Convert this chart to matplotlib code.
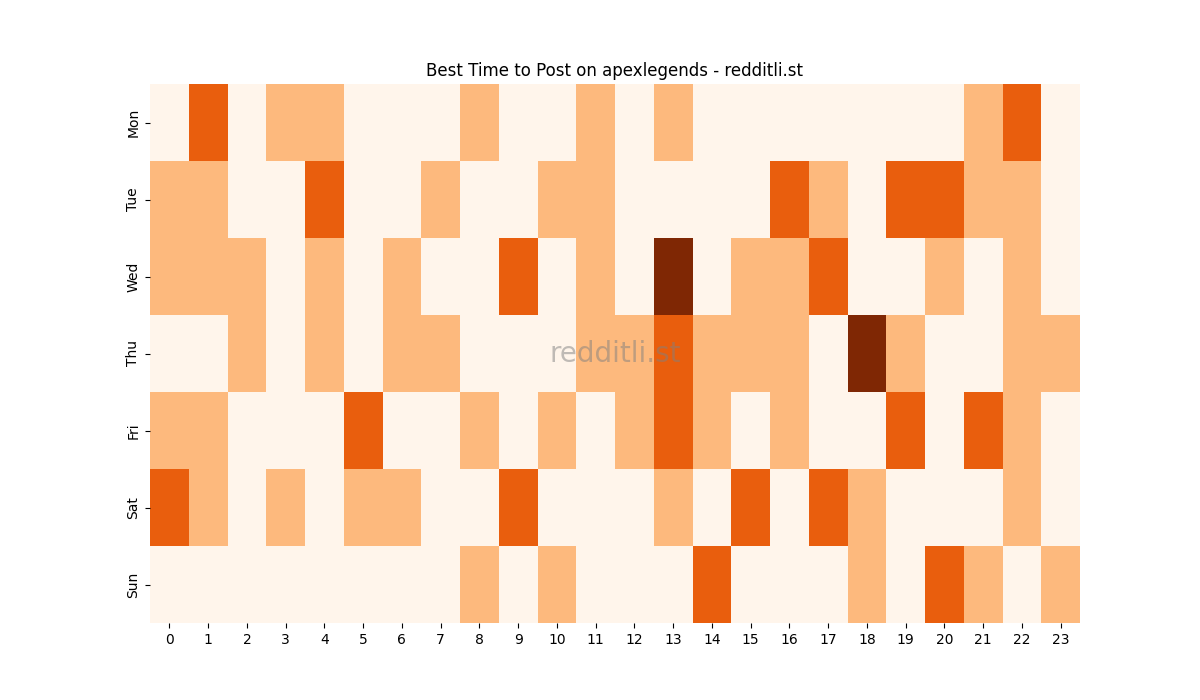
import matplotlib
matplotlib.use("Agg")
import matplotlib.pyplot as plt
import seaborn as sns
import pandas as pd

days = ["Mon", "Tue", "Wed", "Thu", "Fri", "Sat", "Sun"]
hours = list(range(24))

# activity level per hour (0-3)
mon = [0, 2, 0, 1, 1, 0, 0, 0, 1, 0, 0, 1, 0, 1, 0, 0, 0, 0, 0, 0, 0, 1, 2, 0]
tue = [1, 1, 0, 0, 2, 0, 0, 1, 0, 0, 1, 1, 0, 0, 0, 0, 2, 1, 0, 2, 2, 1, 1, 0]
wed = [1, 1, 1, 0, 1, 0, 1, 0, 0, 2, 0, 1, 0, 3, 0, 1, 1, 2, 0, 0, 1, 0, 1, 0]
thu = [0, 0, 1, 0, 1, 0, 1, 1, 0, 0, 0, 1, 1, 2, 1, 1, 1, 0, 3, 1, 0, 0, 1, 1]
fri = [1, 1, 0, 0, 0, 2, 0, 0, 1, 0, 1, 0, 1, 2, 1, 0, 1, 0, 0, 2, 0, 2, 1, 0]
sat = [2, 1, 0, 1, 0, 1, 1, 0, 0, 2, 0, 0, 0, 1, 0, 2, 0, 2, 1, 0, 0, 0, 1, 0]
sun = [0, 0, 0, 0, 0, 0, 0, 0, 1, 0, 1, 0, 0, 0, 2, 0, 0, 0, 1, 0, 2, 1, 0, 1]

df = pd.DataFrame([mon, tue, wed, thu, fri, sat, sun], index=days, columns=hours)

fig, ax = plt.subplots(figsize=(12, 7), dpi=100)
sns.heatmap(df, cmap="Oranges", vmin=0, vmax=3, cbar=False, ax=ax)
ax.set_title("Best Time to Post on apexlegends - redditli.st")
ax.text(0.5, 0.5, "redditli.st", transform=ax.transAxes, fontsize=20,
        color="gray", alpha=0.5, ha="center", va="center")

plt.savefig("out.png")
